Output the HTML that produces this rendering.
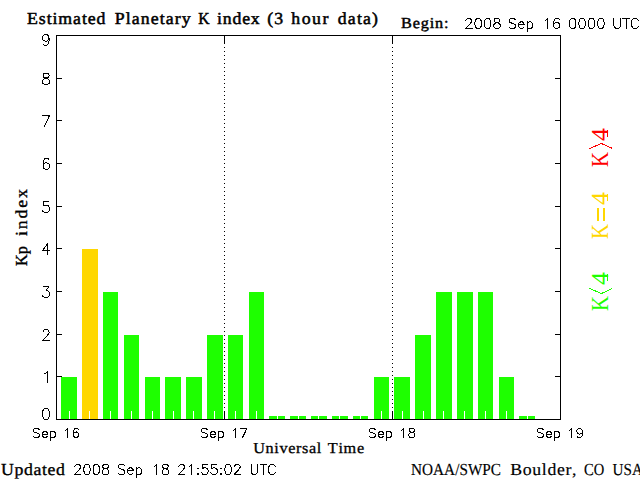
<!DOCTYPE html>
<html><head><meta charset="utf-8"><style>
html,body{margin:0;padding:0;background:#fff;width:640px;height:480px;overflow:hidden}
svg{display:block}
text{font-kerning:none;text-rendering:geometricPrecision}
</style></head><body>
<svg width="640" height="480" viewBox="0 0 640 480">
<rect width="640" height="480" fill="#fff"/>
<g shape-rendering="crispEdges">
<rect x="61" y="377" width="16" height="42" fill="#1eff00"/>
<rect x="82" y="249" width="16" height="170" fill="#ffd700"/>
<rect x="103" y="292" width="15" height="127" fill="#1eff00"/>
<rect x="124" y="335" width="15" height="84" fill="#1eff00"/>
<rect x="145" y="377" width="15" height="42" fill="#1eff00"/>
<rect x="165" y="377" width="16" height="42" fill="#1eff00"/>
<rect x="186" y="377" width="16" height="42" fill="#1eff00"/>
<rect x="207" y="335" width="16" height="84" fill="#1eff00"/>
<rect x="228" y="335" width="15" height="84" fill="#1eff00"/>
<rect x="249" y="292" width="15" height="127" fill="#1eff00"/>
<rect x="269" y="416" width="16" height="3" fill="#1eff00"/>
<rect x="290" y="416" width="16" height="3" fill="#1eff00"/>
<rect x="311" y="416" width="16" height="3" fill="#1eff00"/>
<rect x="332" y="416" width="16" height="3" fill="#1eff00"/>
<rect x="353" y="416" width="15" height="3" fill="#1eff00"/>
<rect x="374" y="377" width="15" height="42" fill="#1eff00"/>
<rect x="394" y="377" width="16" height="42" fill="#1eff00"/>
<rect x="415" y="335" width="16" height="84" fill="#1eff00"/>
<rect x="436" y="292" width="16" height="127" fill="#1eff00"/>
<rect x="457" y="292" width="16" height="127" fill="#1eff00"/>
<rect x="478" y="292" width="15" height="127" fill="#1eff00"/>
<rect x="499" y="377" width="15" height="42" fill="#1eff00"/>
<rect x="519" y="416" width="16" height="3" fill="#1eff00"/>
<rect x="69" y="411" width="1" height="8" fill="#fff"/>
<rect x="89" y="411" width="1" height="8" fill="#fff"/>
<rect x="110" y="411" width="1" height="8" fill="#fff"/>
<rect x="131" y="411" width="1" height="8" fill="#fff"/>
<rect x="152" y="411" width="1" height="8" fill="#fff"/>
<rect x="173" y="411" width="1" height="8" fill="#fff"/>
<rect x="193" y="411" width="1" height="8" fill="#fff"/>
<rect x="214" y="411" width="1" height="8" fill="#fff"/>
<rect x="235" y="411" width="1" height="8" fill="#fff"/>
<rect x="256" y="411" width="1" height="8" fill="#fff"/>
<rect x="277" y="411" width="1" height="8" fill="#fff"/>
<rect x="298" y="411" width="1" height="8" fill="#fff"/>
<rect x="318" y="411" width="1" height="8" fill="#fff"/>
<rect x="339" y="411" width="1" height="8" fill="#fff"/>
<rect x="360" y="411" width="1" height="8" fill="#fff"/>
<rect x="381" y="411" width="1" height="8" fill="#fff"/>
<rect x="402" y="411" width="1" height="8" fill="#fff"/>
<rect x="423" y="411" width="1" height="8" fill="#fff"/>
<rect x="443" y="411" width="1" height="8" fill="#fff"/>
<rect x="464" y="411" width="1" height="8" fill="#fff"/>
<rect x="485" y="411" width="1" height="8" fill="#fff"/>
<rect x="506" y="411" width="1" height="8" fill="#fff"/>
<rect x="527" y="411" width="1" height="8" fill="#fff"/>
<rect x="56" y="35" width="505" height="1"/>
<rect x="56" y="419" width="505" height="1"/>
<rect x="56" y="35" width="1" height="385"/>
<rect x="560" y="35" width="1" height="385"/>
<rect x="57" y="376" width="5" height="1"/>
<rect x="555" y="376" width="5" height="1"/>
<rect x="57" y="334" width="5" height="1"/>
<rect x="555" y="334" width="5" height="1"/>
<rect x="57" y="291" width="5" height="1"/>
<rect x="555" y="291" width="5" height="1"/>
<rect x="57" y="248" width="5" height="1"/>
<rect x="555" y="248" width="5" height="1"/>
<rect x="57" y="206" width="5" height="1"/>
<rect x="555" y="206" width="5" height="1"/>
<rect x="57" y="163" width="5" height="1"/>
<rect x="555" y="163" width="5" height="1"/>
<rect x="57" y="120" width="5" height="1"/>
<rect x="555" y="120" width="5" height="1"/>
<rect x="57" y="78" width="5" height="1"/>
<rect x="555" y="78" width="5" height="1"/>
<line x1="224.5" y1="35" x2="224.5" y2="419" stroke="#000" stroke-width="1" stroke-dasharray="1 3"/>
<rect x="224" y="36" width="1" height="8"/>
<rect x="224" y="411" width="1" height="8"/>
<line x1="392.5" y1="35" x2="392.5" y2="419" stroke="#000" stroke-width="1" stroke-dasharray="1 3"/>
<rect x="392" y="36" width="1" height="8"/>
<rect x="392" y="411" width="1" height="8"/>
<polyline points="589.5,148.5 601.5,143.5 612.5,148.5" fill="none" stroke="#ff0000" stroke-width="1"/>
<polyline points="589.5,288.5 601.5,293.5 612.5,288.5" fill="none" stroke="#1eff00" stroke-width="1"/>
<rect x="607" y="130" width="1" height="7" fill="#ff0000"/>
<rect x="607" y="194" width="1" height="7" fill="#ffd700"/>
<rect x="607" y="274" width="1" height="7" fill="#1eff00"/>
<rect x="597" y="208" width="2" height="13" fill="#ffd700"/>
<rect x="603" y="208" width="2" height="13" fill="#ffd700"/>
</g>
<g>
<text transform="translate(27.000 24) scale(0.1780 0.1679)" font-family="'Liberation Serif', serif" font-weight="normal" font-size="100" letter-spacing="5.134" stroke="#000" stroke-width="3" fill="#000">Estimated</text>
<text transform="translate(114.700 24) scale(0.1780 0.1679)" font-family="'Liberation Serif', serif" font-weight="normal" font-size="100" letter-spacing="6.166" stroke="#000" stroke-width="3" fill="#000">Planetary</text>
<text transform="translate(198.200 24) scale(0.1565 0.1679)" font-family="'Liberation Serif', serif" font-weight="normal" font-size="100" stroke="#000" stroke-width="3" fill="#000">K</text>
<text transform="translate(217.100 24) scale(0.1780 0.1679)" font-family="'Liberation Serif', serif" font-weight="normal" font-size="100" letter-spacing="4.276" stroke="#000" stroke-width="3" fill="#000">index</text>
<text transform="translate(267.200 24) scale(0.1780 0.1679)" font-family="'Liberation Serif', serif" font-weight="normal" font-size="100" letter-spacing="6.580" stroke="#000" stroke-width="3" fill="#000">(3</text>
<text transform="translate(291.200 24) scale(0.1780 0.1679)" font-family="'Liberation Serif', serif" font-weight="normal" font-size="100" letter-spacing="8.744" stroke="#000" stroke-width="3" fill="#000">hour</text>
<text transform="translate(337.800 24) scale(0.1780 0.1679)" font-family="'Liberation Serif', serif" font-weight="normal" font-size="100" letter-spacing="6.481" stroke="#000" stroke-width="3" fill="#000">data)</text>
<text transform="translate(401.000 28) scale(0.1618 0.1527)" font-family="'Liberation Serif', serif" font-weight="normal" font-size="100" letter-spacing="5.363" stroke="#000" stroke-width="3" fill="#000">Begin:</text>
<text transform="translate(253.300 453) scale(0.1618 0.1527)" font-family="'Liberation Serif', serif" font-weight="normal" font-size="100" letter-spacing="3.924" stroke="#000" stroke-width="2" fill="#000">Universal</text>
<text transform="translate(327.800 453) scale(0.1618 0.1527)" font-family="'Liberation Serif', serif" font-weight="normal" font-size="100" letter-spacing="4.366" stroke="#000" stroke-width="2" fill="#000">Time</text>
<text transform="translate(1.000 475) scale(0.1780 0.1679)" font-family="'Liberation Serif', serif" font-weight="normal" font-size="100" letter-spacing="3.453" stroke="#000" stroke-width="2" fill="#000">Updated</text>
<text transform="translate(411.000 475) scale(0.1528 0.1679)" font-family="'Liberation Serif', serif" font-weight="normal" font-size="100" stroke="#000" stroke-width="1" fill="#000">NOAA/SWPC</text>
<text transform="translate(510.300 475) scale(0.1780 0.1679)" font-family="'Liberation Serif', serif" font-weight="normal" font-size="100" letter-spacing="3.535" stroke="#000" stroke-width="1" fill="#000">Boulder,</text>
<text transform="translate(584.100 475) scale(0.1454 0.1679)" font-family="'Liberation Serif', serif" font-weight="normal" font-size="100" stroke="#000" stroke-width="1" fill="#000">CO</text>
<text transform="translate(612.600 475) scale(0.1511 0.1679)" font-family="'Liberation Serif', serif" font-weight="normal" font-size="100" stroke="#000" stroke-width="1" fill="#000">USA</text>
<text transform="translate(27 266.000) rotate(-90) scale(0.1637 0.1679)" font-family="'Liberation Serif', serif" font-weight="normal" font-size="100" stroke="#000" stroke-width="2" fill="#000">Kp</text>
<text transform="translate(27 236.000) rotate(-90) scale(0.1780 0.1679)" font-family="'Liberation Serif', serif" font-weight="normal" font-size="100" letter-spacing="10.456" stroke="#000" stroke-width="2" fill="#000">index</text>
<text transform="translate(608 167.000) rotate(-90) scale(0.2078 0.2443)" font-family="'Liberation Serif', serif" font-weight="normal" font-size="100" fill="#ff0000">K</text>
<text transform="translate(608 141.000) rotate(-90) scale(0.2600 0.2432)" font-family="'Liberation Serif', serif" font-weight="normal" font-size="100" fill="#ff0000">4</text>
<text transform="translate(608 239.000) rotate(-90) scale(0.2078 0.2443)" font-family="'Liberation Serif', serif" font-weight="normal" font-size="100" fill="#ffd700">K</text>
<text transform="translate(608 205.000) rotate(-90) scale(0.2600 0.2432)" font-family="'Liberation Serif', serif" font-weight="normal" font-size="100" fill="#ffd700">4</text>
<text transform="translate(608 311.000) rotate(-90) scale(0.2078 0.2443)" font-family="'Liberation Serif', serif" font-weight="normal" font-size="100" fill="#1eff00">K</text>
<text transform="translate(608 285.000) rotate(-90) scale(0.2600 0.2432)" font-family="'Liberation Serif', serif" font-weight="normal" font-size="100" fill="#1eff00">4</text>
</g>
<path fill="none" stroke="#000" stroke-width="1" stroke-linecap="round" stroke-linejoin="round" shape-rendering="crispEdges" d="M45.50 408.50 L44.00 409.02 L43.00 410.59 L42.50 413.21 L42.50 414.78 L43.00 417.40 L44.00 418.98 L45.50 419.50 L46.50 419.50 L48.00 418.98 L49.00 417.40 L49.50 414.78 L49.50 413.21 L49.00 410.59 L48.00 409.02 L46.50 408.50 L45.50 408.50 M45.00 373.59 L46.00 373.07 L47.50 371.50 L47.50 382.50 M43.00 332.12 L43.00 331.59 L43.50 330.54 L44.00 330.02 L45.00 329.50 L47.00 329.50 L48.00 330.02 L48.50 330.54 L49.00 331.59 L49.00 332.64 L48.50 333.69 L47.50 335.26 L42.50 340.50 L49.50 340.50 M43.50 286.50 L49.00 286.50 L46.00 290.69 L47.50 290.69 L48.50 291.21 L49.00 291.74 L49.50 293.31 L49.50 294.36 L49.00 295.93 L48.00 296.98 L46.50 297.50 L45.00 297.50 L43.50 296.98 L43.00 296.45 L42.50 295.40 M47.50 243.50 L42.50 250.83 L50.00 250.83 M47.50 243.50 L47.50 254.50 M48.50 201.50 L43.50 201.50 L43.00 206.21 L43.50 205.69 L45.00 205.16 L46.50 205.16 L48.00 205.69 L49.00 206.74 L49.50 208.31 L49.50 209.36 L49.00 210.93 L48.00 211.98 L46.50 212.50 L45.00 212.50 L43.50 211.98 L43.00 211.45 L42.50 210.40 M49.00 160.07 L48.50 159.02 L47.00 158.50 L46.00 158.50 L44.50 159.02 L43.50 160.59 L43.00 163.21 L43.00 165.83 L43.50 167.93 L44.50 168.98 L46.00 169.50 L46.50 169.50 L48.00 168.98 L49.00 167.93 L49.50 166.36 L49.50 165.83 L49.00 164.26 L48.00 163.21 L46.50 162.69 L46.00 162.69 L44.50 163.21 L43.50 164.26 L43.00 165.83 M49.50 115.50 L44.50 126.50 M42.50 115.50 L49.50 115.50 M45.00 73.50 L43.50 74.02 L43.00 75.07 L43.00 76.12 L43.50 77.16 L44.50 77.69 L46.50 78.21 L48.00 78.74 L49.00 79.78 L49.50 80.83 L49.50 82.40 L49.00 83.45 L48.50 83.98 L47.00 84.50 L45.00 84.50 L43.50 83.98 L43.00 83.45 L42.50 82.40 L42.50 80.83 L43.00 79.78 L44.00 78.74 L45.50 78.21 L47.50 77.69 L48.50 77.16 L49.00 76.12 L49.00 75.07 L48.50 74.02 L47.00 73.50 L45.00 73.50 M49.00 38.16 L48.50 39.74 L47.50 40.78 L46.00 41.31 L45.50 41.31 L44.00 40.78 L43.00 39.74 L42.50 38.16 L42.50 37.64 L43.00 36.07 L44.00 35.02 L45.50 34.50 L46.00 34.50 L47.50 35.02 L48.50 36.07 L49.00 38.16 L49.00 40.78 L48.50 43.40 L47.50 44.98 L46.00 45.50 L45.00 45.50 L43.50 44.98 L43.00 43.93 M39.46 429.79 L38.58 428.93 L37.26 428.50 L35.50 428.50 L34.18 428.93 L33.30 429.79 L33.30 430.64 L33.74 431.50 L34.18 431.93 L35.06 432.36 L37.70 433.21 L38.58 433.64 L39.02 434.07 L39.46 434.93 L39.46 436.21 L38.58 437.07 L37.26 437.50 L35.50 437.50 L34.18 437.07 L33.30 436.21 M42.10 434.07 L47.38 434.07 L47.38 433.21 L46.94 432.36 L46.50 431.93 L45.62 431.50 L44.30 431.50 L43.42 431.93 L42.54 432.79 L42.10 434.07 L42.10 434.93 L42.54 436.21 L43.42 437.07 L44.30 437.50 L45.62 437.50 L46.50 437.07 L47.38 436.21 M50.46 431.50 L50.46 440.50 M50.46 432.79 L51.34 431.93 L52.22 431.50 L53.54 431.50 L54.42 431.93 L55.30 432.79 L55.74 434.07 L55.74 434.93 L55.30 436.21 L54.42 437.07 L53.54 437.50 L52.22 437.50 L51.34 437.07 L50.46 436.21 M65.30 430.21 L66.18 429.79 L67.50 428.50 L67.50 437.50 M78.50 429.79 L78.06 428.93 L76.74 428.50 L75.86 428.50 L74.54 428.93 L73.66 430.21 L73.22 432.36 L73.22 434.50 L73.66 436.21 L74.54 437.07 L75.86 437.50 L76.30 437.50 L77.62 437.07 L78.50 436.21 L78.94 434.93 L78.94 434.50 L78.50 433.21 L77.62 432.36 L76.30 431.93 L75.86 431.93 L74.54 432.36 L73.66 433.21 L73.22 434.50 M207.46 429.79 L206.58 428.93 L205.26 428.50 L203.50 428.50 L202.18 428.93 L201.30 429.79 L201.30 430.64 L201.74 431.50 L202.18 431.93 L203.06 432.36 L205.70 433.21 L206.58 433.64 L207.02 434.07 L207.46 434.93 L207.46 436.21 L206.58 437.07 L205.26 437.50 L203.50 437.50 L202.18 437.07 L201.30 436.21 M210.10 434.07 L215.38 434.07 L215.38 433.21 L214.94 432.36 L214.50 431.93 L213.62 431.50 L212.30 431.50 L211.42 431.93 L210.54 432.79 L210.10 434.07 L210.10 434.93 L210.54 436.21 L211.42 437.07 L212.30 437.50 L213.62 437.50 L214.50 437.07 L215.38 436.21 M218.46 431.50 L218.46 440.50 M218.46 432.79 L219.34 431.93 L220.22 431.50 L221.54 431.50 L222.42 431.93 L223.30 432.79 L223.74 434.07 L223.74 434.93 L223.30 436.21 L222.42 437.07 L221.54 437.50 L220.22 437.50 L219.34 437.07 L218.46 436.21 M233.30 430.21 L234.18 429.79 L235.50 428.50 L235.50 437.50 M246.94 428.50 L242.54 437.50 M240.78 428.50 L246.94 428.50 M375.46 429.79 L374.58 428.93 L373.26 428.50 L371.50 428.50 L370.18 428.93 L369.30 429.79 L369.30 430.64 L369.74 431.50 L370.18 431.93 L371.06 432.36 L373.70 433.21 L374.58 433.64 L375.02 434.07 L375.46 434.93 L375.46 436.21 L374.58 437.07 L373.26 437.50 L371.50 437.50 L370.18 437.07 L369.30 436.21 M378.10 434.07 L383.38 434.07 L383.38 433.21 L382.94 432.36 L382.50 431.93 L381.62 431.50 L380.30 431.50 L379.42 431.93 L378.54 432.79 L378.10 434.07 L378.10 434.93 L378.54 436.21 L379.42 437.07 L380.30 437.50 L381.62 437.50 L382.50 437.07 L383.38 436.21 M386.46 431.50 L386.46 440.50 M386.46 432.79 L387.34 431.93 L388.22 431.50 L389.54 431.50 L390.42 431.93 L391.30 432.79 L391.74 434.07 L391.74 434.93 L391.30 436.21 L390.42 437.07 L389.54 437.50 L388.22 437.50 L387.34 437.07 L386.46 436.21 M401.30 430.21 L402.18 429.79 L403.50 428.50 L403.50 437.50 M410.98 428.50 L409.66 428.93 L409.22 429.79 L409.22 430.64 L409.66 431.50 L410.54 431.93 L412.30 432.36 L413.62 432.79 L414.50 433.64 L414.94 434.50 L414.94 435.79 L414.50 436.64 L414.06 437.07 L412.74 437.50 L410.98 437.50 L409.66 437.07 L409.22 436.64 L408.78 435.79 L408.78 434.50 L409.22 433.64 L410.10 432.79 L411.42 432.36 L413.18 431.93 L414.06 431.50 L414.50 430.64 L414.50 429.79 L414.06 428.93 L412.74 428.50 L410.98 428.50 M543.46 429.79 L542.58 428.93 L541.26 428.50 L539.50 428.50 L538.18 428.93 L537.30 429.79 L537.30 430.64 L537.74 431.50 L538.18 431.93 L539.06 432.36 L541.70 433.21 L542.58 433.64 L543.02 434.07 L543.46 434.93 L543.46 436.21 L542.58 437.07 L541.26 437.50 L539.50 437.50 L538.18 437.07 L537.30 436.21 M546.10 434.07 L551.38 434.07 L551.38 433.21 L550.94 432.36 L550.50 431.93 L549.62 431.50 L548.30 431.50 L547.42 431.93 L546.54 432.79 L546.10 434.07 L546.10 434.93 L546.54 436.21 L547.42 437.07 L548.30 437.50 L549.62 437.50 L550.50 437.07 L551.38 436.21 M554.46 431.50 L554.46 440.50 M554.46 432.79 L555.34 431.93 L556.22 431.50 L557.54 431.50 L558.42 431.93 L559.30 432.79 L559.74 434.07 L559.74 434.93 L559.30 436.21 L558.42 437.07 L557.54 437.50 L556.22 437.50 L555.34 437.07 L554.46 436.21 M569.30 430.21 L570.18 429.79 L571.50 428.50 L571.50 437.50 M582.50 431.50 L582.06 432.79 L581.18 433.64 L579.86 434.07 L579.42 434.07 L578.10 433.64 L577.22 432.79 L576.78 431.50 L576.78 431.07 L577.22 429.79 L578.10 428.93 L579.42 428.50 L579.86 428.50 L581.18 428.93 L582.06 429.79 L582.50 431.50 L582.50 433.64 L582.06 435.79 L581.18 437.07 L579.86 437.50 L578.98 437.50 L577.66 437.07 L577.22 436.21 M465.97 20.88 L465.97 20.41 L466.44 19.46 L466.91 18.98 L467.85 18.50 L469.73 18.50 L470.67 18.98 L471.14 19.46 L471.61 20.41 L471.61 21.36 L471.14 22.31 L470.20 23.74 L465.50 28.50 L472.08 28.50 M477.72 18.50 L476.31 18.98 L475.37 20.41 L474.90 22.79 L474.90 24.22 L475.37 26.60 L476.31 28.02 L477.72 28.50 L478.66 28.50 L480.07 28.02 L481.01 26.60 L481.48 24.22 L481.48 22.79 L481.01 20.41 L480.07 18.98 L478.66 18.50 L477.72 18.50 M487.12 18.50 L485.71 18.98 L484.77 20.41 L484.30 22.79 L484.30 24.22 L484.77 26.60 L485.71 28.02 L487.12 28.50 L488.06 28.50 L489.47 28.02 L490.41 26.60 L490.88 24.22 L490.88 22.79 L490.41 20.41 L489.47 18.98 L488.06 18.50 L487.12 18.50 M496.05 18.50 L494.64 18.98 L494.17 19.93 L494.17 20.88 L494.64 21.84 L495.58 22.31 L497.46 22.79 L498.87 23.26 L499.81 24.22 L500.28 25.17 L500.28 26.60 L499.81 27.55 L499.34 28.02 L497.93 28.50 L496.05 28.50 L494.64 28.02 L494.17 27.55 L493.70 26.60 L493.70 25.17 L494.17 24.22 L495.11 23.26 L496.52 22.79 L498.40 22.31 L499.34 21.84 L499.81 20.88 L499.81 19.93 L499.34 18.98 L497.93 18.50 L496.05 18.50 M515.58 19.93 L514.64 18.98 L513.23 18.50 L511.35 18.50 L509.94 18.98 L509.00 19.93 L509.00 20.88 L509.47 21.84 L509.94 22.31 L510.88 22.79 L513.70 23.74 L514.64 24.22 L515.11 24.69 L515.58 25.64 L515.58 27.07 L514.64 28.02 L513.23 28.50 L511.35 28.50 L509.94 28.02 L509.00 27.07 M518.40 24.69 L524.04 24.69 L524.04 23.74 L523.57 22.79 L523.10 22.31 L522.16 21.84 L520.75 21.84 L519.81 22.31 L518.87 23.26 L518.40 24.69 L518.40 25.64 L518.87 27.07 L519.81 28.02 L520.75 28.50 L522.16 28.50 L523.10 28.02 L524.04 27.07 M527.33 21.84 L527.33 31.83 M527.33 23.26 L528.27 22.31 L529.21 21.84 L530.62 21.84 L531.56 22.31 L532.50 23.26 L532.97 24.69 L532.97 25.64 L532.50 27.07 L531.56 28.02 L530.62 28.50 L529.21 28.50 L528.27 28.02 L527.33 27.07 M545.20 20.41 L546.14 19.93 L547.55 18.50 L547.55 28.50 M559.30 19.93 L558.83 18.98 L557.42 18.50 L556.48 18.50 L555.07 18.98 L554.13 20.41 L553.66 22.79 L553.66 25.17 L554.13 27.07 L555.07 28.02 L556.48 28.50 L556.95 28.50 L558.36 28.02 L559.30 27.07 L559.77 25.64 L559.77 25.17 L559.30 23.74 L558.36 22.79 L556.95 22.31 L556.48 22.31 L555.07 22.79 L554.13 23.74 L553.66 25.17 M572.22 18.50 L570.81 18.98 L569.87 20.41 L569.40 22.79 L569.40 24.22 L569.87 26.60 L570.81 28.02 L572.22 28.50 L573.16 28.50 L574.57 28.02 L575.51 26.60 L575.98 24.22 L575.98 22.79 L575.51 20.41 L574.57 18.98 L573.16 18.50 L572.22 18.50 M581.62 18.50 L580.21 18.98 L579.27 20.41 L578.80 22.79 L578.80 24.22 L579.27 26.60 L580.21 28.02 L581.62 28.50 L582.56 28.50 L583.97 28.02 L584.91 26.60 L585.38 24.22 L585.38 22.79 L584.91 20.41 L583.97 18.98 L582.56 18.50 L581.62 18.50 M591.02 18.50 L589.61 18.98 L588.67 20.41 L588.20 22.79 L588.20 24.22 L588.67 26.60 L589.61 28.02 L591.02 28.50 L591.96 28.50 L593.37 28.02 L594.31 26.60 L594.78 24.22 L594.78 22.79 L594.31 20.41 L593.37 18.98 L591.96 18.50 L591.02 18.50 M600.42 18.50 L599.01 18.98 L598.07 20.41 L597.60 22.79 L597.60 24.22 L598.07 26.60 L599.01 28.02 L600.42 28.50 L601.36 28.50 L602.77 28.02 L603.71 26.60 L604.18 24.22 L604.18 22.79 L603.71 20.41 L602.77 18.98 L601.36 18.50 L600.42 18.50 M613.90 18.50 L613.90 25.64 L614.37 27.07 L615.31 28.02 L616.72 28.50 L617.66 28.50 L619.07 28.02 L620.01 27.07 L620.48 25.64 L620.48 18.50 M626.12 18.50 L626.12 28.50 M622.83 18.50 L629.41 18.50 M638.34 20.88 L637.87 19.93 L636.93 18.98 L635.99 18.50 L634.11 18.50 L633.17 18.98 L632.23 19.93 L631.76 20.88 L631.29 22.31 L631.29 24.69 L631.76 26.12 L632.23 27.07 L633.17 28.02 L634.11 28.50 L635.99 28.50 L636.93 28.02 L637.87 27.07 L638.34 26.12 M74.96 466.88 L74.96 466.41 L75.43 465.46 L75.89 464.98 L76.81 464.50 L78.67 464.50 L79.59 464.98 L80.06 465.46 L80.52 466.41 L80.52 467.36 L80.06 468.31 L79.13 469.74 L74.50 474.50 L80.98 474.50 M86.54 464.50 L85.15 464.98 L84.22 466.41 L83.76 468.79 L83.76 470.22 L84.22 472.60 L85.15 474.02 L86.54 474.50 L87.46 474.50 L88.85 474.02 L89.78 472.60 L90.24 470.22 L90.24 468.79 L89.78 466.41 L88.85 464.98 L87.46 464.50 L86.54 464.50 M95.80 464.50 L94.41 464.98 L93.48 466.41 L93.02 468.79 L93.02 470.22 L93.48 472.60 L94.41 474.02 L95.80 474.50 L96.72 474.50 L98.11 474.02 L99.04 472.60 L99.50 470.22 L99.50 468.79 L99.04 466.41 L98.11 464.98 L96.72 464.50 L95.80 464.50 M104.60 464.50 L103.21 464.98 L102.74 465.93 L102.74 466.88 L103.21 467.84 L104.13 468.31 L105.98 468.79 L107.37 469.26 L108.30 470.22 L108.76 471.17 L108.76 472.60 L108.30 473.55 L107.84 474.02 L106.45 474.50 L104.60 474.50 L103.21 474.02 L102.74 473.55 L102.28 472.60 L102.28 471.17 L102.74 470.22 L103.67 469.26 L105.06 468.79 L106.91 468.31 L107.84 467.84 L108.30 466.88 L108.30 465.93 L107.84 464.98 L106.45 464.50 L104.60 464.50 M124.78 465.93 L123.86 464.98 L122.47 464.50 L120.61 464.50 L119.23 464.98 L118.30 465.93 L118.30 466.88 L118.76 467.84 L119.23 468.31 L120.15 468.79 L122.93 469.74 L123.86 470.22 L124.32 470.69 L124.78 471.64 L124.78 473.07 L123.86 474.02 L122.47 474.50 L120.61 474.50 L119.23 474.02 L118.30 473.07 M127.56 470.69 L133.12 470.69 L133.12 469.74 L132.65 468.79 L132.19 468.31 L131.26 467.84 L129.88 467.84 L128.95 468.31 L128.02 469.26 L127.56 470.69 L127.56 471.64 L128.02 473.07 L128.95 474.02 L129.88 474.50 L131.26 474.50 L132.19 474.02 L133.12 473.07 M136.36 467.84 L136.36 477.83 M136.36 469.26 L137.28 468.31 L138.21 467.84 L139.60 467.84 L140.52 468.31 L141.45 469.26 L141.91 470.69 L141.91 471.64 L141.45 473.07 L140.52 474.02 L139.60 474.50 L138.21 474.50 L137.28 474.02 L136.36 473.07 M154.30 466.41 L155.23 465.93 L156.62 464.50 L156.62 474.50 M164.49 464.50 L163.10 464.98 L162.63 465.93 L162.63 466.88 L163.10 467.84 L164.02 468.31 L165.88 468.79 L167.26 469.26 L168.19 470.22 L168.65 471.17 L168.65 472.60 L168.19 473.55 L167.73 474.02 L166.34 474.50 L164.49 474.50 L163.10 474.02 L162.63 473.55 L162.17 472.60 L162.17 471.17 L162.63 470.22 L163.56 469.26 L164.95 468.79 L166.80 468.31 L167.73 467.84 L168.19 466.88 L168.19 465.93 L167.73 464.98 L166.34 464.50 L164.49 464.50 M178.96 466.88 L178.96 466.41 L179.43 465.46 L179.89 464.98 L180.81 464.50 L182.67 464.50 L183.59 464.98 L184.06 465.46 L184.52 466.41 L184.52 467.36 L184.06 468.31 L183.13 469.74 L178.50 474.50 L184.98 474.50 M189.15 466.41 L190.07 465.93 L191.46 464.50 L191.46 474.50 M197.95 467.84 L197.48 468.31 L197.95 468.79 L198.41 468.31 L197.95 467.84 M197.95 473.55 L197.48 474.02 L197.95 474.50 L198.41 474.02 L197.95 473.55 M207.21 464.50 L202.58 464.50 L202.11 468.79 L202.58 468.31 L203.96 467.84 L205.35 467.84 L206.74 468.31 L207.67 469.26 L208.13 470.69 L208.13 471.64 L207.67 473.07 L206.74 474.02 L205.35 474.50 L203.96 474.50 L202.58 474.02 L202.11 473.55 L201.65 472.60 M216.47 464.50 L211.84 464.50 L211.37 468.79 L211.84 468.31 L213.22 467.84 L214.61 467.84 L216.00 468.31 L216.93 469.26 L217.39 470.69 L217.39 471.64 L216.93 473.07 L216.00 474.02 L214.61 474.50 L213.22 474.50 L211.84 474.02 L211.37 473.55 L210.91 472.60 M221.10 467.84 L220.63 468.31 L221.10 468.79 L221.56 468.31 L221.10 467.84 M221.10 473.55 L220.63 474.02 L221.10 474.50 L221.56 474.02 L221.10 473.55 M227.58 464.50 L226.19 464.98 L225.26 466.41 L224.80 468.79 L224.80 470.22 L225.26 472.60 L226.19 474.02 L227.58 474.50 L228.50 474.50 L229.89 474.02 L230.82 472.60 L231.28 470.22 L231.28 468.79 L230.82 466.41 L229.89 464.98 L228.50 464.50 L227.58 464.50 M234.52 466.88 L234.52 466.41 L234.99 465.46 L235.45 464.98 L236.37 464.50 L238.23 464.50 L239.15 464.98 L239.62 465.46 L240.08 466.41 L240.08 467.36 L239.62 468.31 L238.69 469.74 L234.06 474.50 L240.54 474.50 M251.20 464.50 L251.20 471.64 L251.66 473.07 L252.59 474.02 L253.98 474.50 L254.90 474.50 L256.29 474.02 L257.22 473.07 L257.68 471.64 L257.68 464.50 M263.24 464.50 L263.24 474.50 M260.00 464.50 L266.48 464.50 M275.28 466.88 L274.81 465.93 L273.89 464.98 L272.96 464.50 L271.11 464.50 L270.18 464.98 L269.26 465.93 L268.79 466.88 L268.33 468.31 L268.33 470.69 L268.79 472.12 L269.26 473.07 L270.18 474.02 L271.11 474.50 L272.96 474.50 L273.89 474.02 L274.81 473.07 L275.28 472.12"/>
</svg>
</body></html>
